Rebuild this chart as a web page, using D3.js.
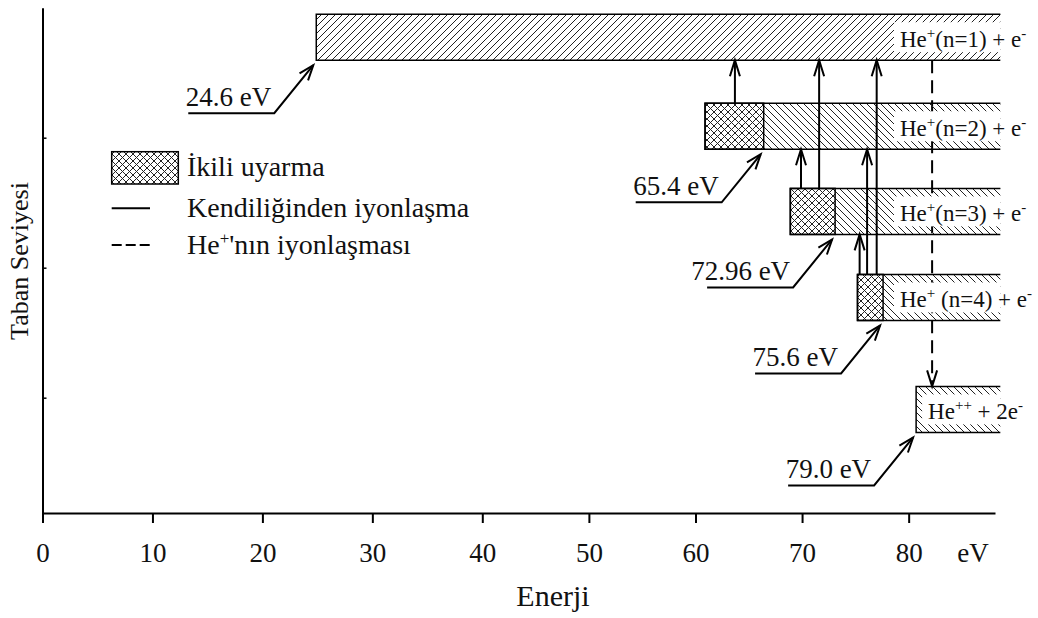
<!DOCTYPE html>
<html lang="tr">
<head>
<meta charset="UTF-8">
<title>He enerji seviyeleri</title>
<script src="https://d3js.org/d3.v7.min.js"></script>
<style>
	body{ margin:0; background:#fff; }
	svg{ display:block; }
	text, tspan{ fill:#111; font-family:"Liberation Serif","Times New Roman",serif; }
</style>
</head>
<body>
<svg id="svg" width="1038" height="618"></svg>
<script>
// x axis ticks (eV)
var xTicks = [0, 10, 20, 30, 40, 50, 60, 70, 80];
// levels: centre on the (unlabelled) y axis, start energy, end of the double excitation part
var levelY = [3.773, 3.088, 2.433, 1.771, 0.910];
var levelStart = [24.9, 60.9, 68.9, 75.2, 80.7];
var doubleEnd = [null, 66.4, 73.1, 77.6, null];
var bandEnd = 88.6;
var levelLabels = [
	["He", "+", "(n=1) + e", "-"],
	["He", "+", "(n=2) + e", "-"],
	["He", "+", "(n=3) + e", "-"],
	["He", "+", " (n=4) + e", "-"],
	["He", "++", " + 2e", "-"]
];
var thresholdLabels = ["24.6 eV", "65.4 eV", "72.96 eV", "75.6 eV", "79.0 eV"];
// autoionisation arrows (solid)
var arrowE = [63.7, 71.6, 77.0, 69.9, 76.1, 75.4];
var arrowFrom = [1, 2, 3, 2, 3, 3];
var arrowTo = [0, 0, 0, 1, 1, 2];
// He+ ionisation (dashed)
var ionE = 82.2, ionFrom = 0, ionTo = 4;

var svg = d3.select("svg");
var x = d3.scaleLinear().domain([0, 40, 88.1]).range([42.5, 482.3, 995]);
var y = d3.scaleLinear().domain([0.113, 4]).range([513, 7.7]);
var half = 23;

var defs = svg.append("defs");
function pattern(id, d){
	defs.append("pattern").attr("id", id)
		.attr("patternUnits", "userSpaceOnUse").attr("width", 7).attr("height", 7)
		.append("path").attr("d", d).attr("stroke", "#222").attr("stroke-width", 1).attr("fill", "none");
}
var fwd = "M0,7L7,0M-2,2L2,-2M5,9L9,5";
var bwd = "M0,0L7,7M-2,5L2,9M5,-2L9,2";
pattern("hF", fwd);
pattern("hB", bwd);
pattern("hX", fwd + bwd);

function bandTop(i){ return y(levelY[i]) - half; }
function bandBot(i){ return y(levelY[i]) + half; }

// axes
var xAxis = svg.append("g").attr("transform", "translate(0,513)")
	.call(d3.axisBottom(x).tickValues(xTicks).tickSize(10).tickSizeOuter(0));
xAxis.select(".domain").attr("stroke-width", 2);
xAxis.selectAll(".tick line").attr("stroke-width", 2);
xAxis.selectAll(".tick text").attr("y", 49).attr("dy", 0)
	.style("font-size", "27px").attr("fill", "#111");
svg.append("text").attr("x", 973).attr("y", 562).attr("text-anchor", "middle")
	.style("font-size", "27px").text("eV");
svg.append("text").attr("x", 553).attr("y", 606).attr("text-anchor", "middle")
	.style("font-size", "30px").text("Enerji");

var yAxis = svg.append("g").attr("transform", "translate(42.5,0)")
	.call(d3.axisRight(y).tickValues([1, 2, 3]).tickSize(4).tickSizeOuter(0).tickFormat(""));
yAxis.select(".domain").attr("stroke-width", 2);
yAxis.selectAll(".tick line").attr("stroke-width", 1.5);
svg.append("text").attr("transform", "translate(28,261) rotate(-90)").attr("text-anchor", "middle")
	.style("font-size", "26px").text("Taban Seviyesi");

// dashed ionisation line (behind the bands)
var ix = x(ionE);
svg.append("line").attr("x1", ix).attr("x2", ix).attr("y1", bandBot(ionFrom)).attr("y2", bandTop(ionTo) - 2)
	.attr("stroke", "#000").attr("stroke-width", 2).attr("stroke-dasharray", "13,7");
svg.append("path").attr("d", "M" + (ix - 5) + "," + (bandTop(ionTo) - 16) + "L" + ix + "," + bandTop(ionTo) + "L" + (ix + 5) + "," + (bandTop(ionTo) - 16))
	.attr("fill", "none").attr("stroke", "#000").attr("stroke-width", 2);

// bands
levelY.forEach(function(v, i){
	var t = bandTop(i), b = bandBot(i), x0 = x(levelStart[i]), x1 = x(bandEnd);
	var xh = doubleEnd[i] == null ? x0 : x(doubleEnd[i]);
	var g = svg.append("g");
	g.append("rect").attr("x", xh).attr("y", t).attr("width", x1 - xh).attr("height", b - t)
		.attr("fill", i == 0 ? "url(#hF)" : "url(#hB)");
	if (doubleEnd[i] != null){
		g.append("rect").attr("x", x0).attr("y", t).attr("width", xh - x0).attr("height", b - t)
			.attr("fill", "url(#hX)").attr("stroke", "#000").attr("stroke-width", 1.5);
	}
	g.append("path").attr("d", "M" + x1 + "," + t + "H" + x0 + "V" + b + "H" + x1)
		.attr("fill", "none").attr("stroke", "#000").attr("stroke-width", 1.5);
	var lx = Math.max(x0 + 12, 900);
	g.append("rect").attr("x", lx - 6).attr("y", t + 8).attr("width", x1 - lx + 6).attr("height", b - t - 16)
		.attr("fill", "#fff");
	var txt = g.append("text").attr("x", lx).attr("y", y(v) + 10).style("font-size", "23px");
	levelLabels[i].forEach(function(s, k){
		var sup = k % 2 == 1;
		txt.append("tspan").attr("dy", sup ? -9 : (k > 0 ? 9 : 0))
			.style("font-size", sup ? "15px" : "23px").text(s);
	});
});

// solid autoionisation arrows
arrowE.forEach(function(e, k){
	var ax = x(e), y1 = bandTop(arrowFrom[k]), y2 = bandBot(arrowTo[k]);
	svg.append("line").attr("x1", ax).attr("x2", ax).attr("y1", y1).attr("y2", y2)
		.attr("stroke", "#000").attr("stroke-width", 2);
	svg.append("path").attr("d", "M" + (ax - 5) + "," + (y2 + 16) + "L" + ax + "," + y2 + "L" + (ax + 5) + "," + (y2 + 16))
		.attr("fill", "none").attr("stroke", "#000").attr("stroke-width", 2);
});

// threshold annotations
thresholdLabels.forEach(function(s, i){
	var bx = x(doubleEnd[i] == null ? levelStart[i] : doubleEnd[i]), b = bandBot(i);
	var tip = [bx - 3, b + 5], end = [bx - 42, b + 53], start = [end[0] - 86, end[1]];
	svg.append("path").attr("d", "M" + start + "L" + end + "L" + tip)
		.attr("fill", "none").attr("stroke", "#000").attr("stroke-width", 2);
	var ang = Math.atan2(end[1] - tip[1], end[0] - tip[0]);
	var p1 = [tip[0] + 16 * Math.cos(ang + 0.35), tip[1] + 16 * Math.sin(ang + 0.35)];
	var p2 = [tip[0] + 16 * Math.cos(ang - 0.35), tip[1] + 16 * Math.sin(ang - 0.35)];
	svg.append("path").attr("d", "M" + p1 + "L" + tip + "L" + p2)
		.attr("fill", "none").attr("stroke", "#000").attr("stroke-width", 2);
	svg.append("text").attr("x", end[0] - 3).attr("y", end[1] - 7).attr("text-anchor", "end")
		.style("font-size", "27px").text(s);
});

// legend
var lg = svg.append("g");
lg.append("rect").attr("x", 111.7).attr("y", 151.7).attr("width", 66.6).attr("height", 32.3)
	.attr("fill", "url(#hX)").attr("stroke", "#000").attr("stroke-width", 1.5);
lg.append("line").attr("x1", 111.7).attr("x2", 150).attr("y1", 208.3).attr("y2", 208.3)
	.attr("stroke", "#000").attr("stroke-width", 2);
lg.append("line").attr("x1", 111.7).attr("x2", 152).attr("y1", 245).attr("y2", 245)
	.attr("stroke", "#000").attr("stroke-width", 2).attr("stroke-dasharray", "10,4");
lg.append("text").attr("x", 187).attr("y", 176).style("font-size", "28px").text("İkili uyarma");
lg.append("text").attr("x", 187).attr("y", 217).style("font-size", "28px").text("Kendiliğinden iyonlaşma");
var lt = lg.append("text").attr("x", 187).attr("y", 254).style("font-size", "28px");
lt.append("tspan").text("He");
lt.append("tspan").attr("dy", -10).style("font-size", "17px").text("+");
lt.append("tspan").attr("dy", 10).text("'nın iyonlaşması");
</script>
</body>
</html>
